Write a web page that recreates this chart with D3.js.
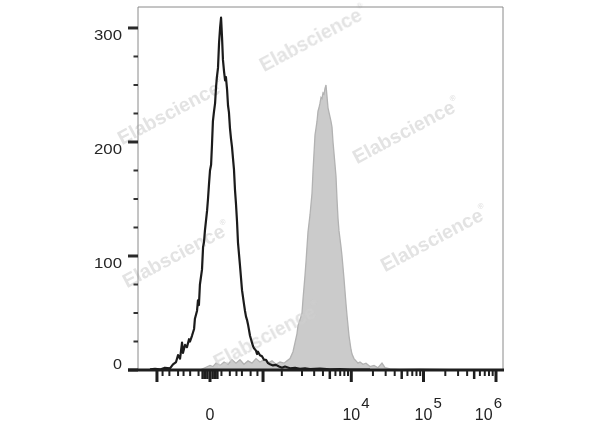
<!DOCTYPE html>
<html><head><meta charset="utf-8">
<script src="https://cdn.jsdelivr.net/npm/d3@7"></script>
<style>html,body{margin:0;padding:0;background:#fff;} svg{display:block;}</style>
</head><body><svg id="chart" width="600" height="427"></svg>
<script>
// [intensity, count]
const controlHistogram = [
[-652,0.5],[-539,1],[-443,0.5],[-362,2],[-292,1.5],[-255,5],[-221,7],[-201,13],[-181,10],[-163,24],
[-155,15],[-138,22],[-123,20],[-108,27],[-101,25],[-88,30],[-75,36],[-70,45],[-58,52],[-53,61],
[-48,57],[-43,75],[-33,88],[-28,108],[-24,112],[-20,122],[-11,140],[-7.5,150],[-3.7,163],[0,175],
[4,180],[7.5,198],[11,218],[15,226],[20,234],[24,248],[28,257],[33,265],[38,287],[43,300],
[48,309],[53,292],[58,272],[64,262],[70,254],[75,257],[82,246],[88,232],[94,226],[101,212],
[108,203],[115,196],[123,185],[130,176],[138,158],[146,146],[155,130],[163,112],[181,92],[201,70],
[221,58],[232,52],[243,47],[255,44],[267,40],[292,30],[305,27],[318,24],[332,21],[347,19],
[377,17],[393,14],[409,16],[443,13],[480,12],[519,9],[561,9],[605,6],[652,5],[728,4],
[812,4.5],[905,3],[1007,2],[1118,3],[1332,1.5],[1580,2],[1871,1],[2213,1.5],[2613,0.8],[3631,1.2],
[5032,0.6],[6954,0.8],[9590,0.4],[18210,0.3]
];
const stainedHistogram = [
[-43,0],[-20,2],[0,4],[11,3],[24,6],[43,4],[64,7],[88,5],[115,9],[146,6],
[181,9],[221,5],[267,8],[318,6],[377,10],[443,7],[519,9],[605,6],[702,8],[812,5],
[938,7],[1080,6],[1199,8],[1332,10],[1475,16],[1580,24],[1691,32],[1749,39],[1871,44],[2001,50],
[2069,62],[2213,83],[2288,95],[2445,121],[2613,136],[2792,155],[2885,174],[2982,190],[3082,206],[3185,212],
[3291,218],[3401,227],[3514,230],[3631,234],[3752,239],[3877,238],[4005,243],[4138,242],[4276,247],[4418,250],
[4563,240],[4715,230],[4870,226],[5032,222],[5197,218],[5369,213],[5546,200],[5729,190],[5917,180],[6110,170],
[6311,150],[6519,133],[6733,122],[6954,115],[7182,108],[7417,100],[7660,90],[7912,80],[8170,69],[8436,58],
[8711,48],[8996,39],[9291,30],[9590,24],[9907,18],[10230,14],[10900,10],[11630,8],[12400,6],[13220,7],
[14550,5],[16020,6],[18210,3],[20680,4],[23490,2],[26690,6],[29380,2],[34450,1],[47380,0.5],[89480,1],
[168900,0.5],[318900,0]
];
const yMajorTicks = [0, 100, 200, 300];
const yMinorTicks = [25, 50, 75, 125, 150, 175, 225, 250, 275];
const xMajorTicks = [-500, 0, 500, 1e4, 1e5, 1e6];
const xMediumTicks = [-30, -20, -10, 10, 20, 30, 5000, 5e4, 5e5];
const xMinorTicks = [-400,-300,-200,-150,-100,-50,50,100,150,200,300,400,
  1000,2000,3000,4000,6000,7000,8000,9000,
  2e4,3e4,4e4,6e4,7e4,8e4,9e4,2e5,3e5,4e5,6e5,7e5,8e5,9e5];
const xLabelValues = [0, 1e4, 1e5, 1e6];
const xLabelBases = ["0", "10", "10", "10"];
const xLabelExponents = ["", "4", "5", "6"];
const watermarkText = "Elabscience";

const svg = d3.select("#chart");
const L = 138, R = 503, T = 7, B = 370;
const x = d3.scaleSymlog().constant(114).domain([-1007, 1249000]).range([L, R]);
const y = d3.scaleLinear().domain([0, 318.4]).range([B, T]);
const FONT = "Liberation Sans, Arial, sans-serif";

// stained (filled grey)
svg.append("path").datum(stainedHistogram)
  .attr("d", d3.area().x(d => x(d[0])).y0(y(0)).y1(d => y(d[1])))
  .attr("fill", "#cbcbcb").attr("stroke", "#b2b2b2").attr("stroke-width", 1.3);

// watermarks
const wm = [[314,40],[172,113],[407,132],[435,240],[177,256],[268,337]];
const wg = svg.append("g").attr("opacity", 0.6);
wm.forEach(p => {
  const t = wg.append("text").attr("transform", `translate(${p[0]},${p[1]}) rotate(-28)`)
    .attr("text-anchor", "middle").attr("dominant-baseline", "middle")
    .attr("font-family", FONT).attr("font-weight", "bold")
    .attr("font-size", 19.5).attr("fill", "#d0d0d0");
  t.append("tspan").text(watermarkText);
  t.append("tspan").attr("font-size", 8).attr("dy", -8).text("®");
});

// control (black line)
svg.append("path").datum(controlHistogram)
  .attr("d", d3.line().x(d => x(d[0])).y(d => y(d[1])))
  .attr("fill", "none").attr("stroke", "#1b1b1b").attr("stroke-width", 2.2).attr("stroke-linejoin", "round");

// frame
svg.append("path").attr("d", `M${L},${B}V${T}H${R}V${B}`)
  .attr("fill", "none").attr("stroke", "#8a8a8a").attr("stroke-width", 1);

// y ticks
svg.selectAll(".ymaj").data(yMajorTicks).enter().append("line")
  .attr("x1", L - 10).attr("x2", L).attr("y1", d => y(d)).attr("y2", d => y(d))
  .attr("stroke", "#2a2a2a").attr("stroke-width", 3);
svg.selectAll(".ymin").data(yMinorTicks).enter().append("line")
  .attr("x1", L - 4.5).attr("x2", L).attr("y1", d => y(d)).attr("y2", d => y(d))
  .attr("stroke", "#333").attr("stroke-width", 2);
svg.selectAll(".ylab").data(yMajorTicks).enter().append("text")
  .attr("x", 122).attr("y", d => y(d) + (d === 0 ? -1 : 12))
  .attr("text-anchor", "end").attr("font-family", FONT)
  .attr("font-size", 15).attr("fill", "#262626")
  .attr("textLength", d => String(d).length * 9.5 - 0.5)
  .attr("lengthAdjust", "spacingAndGlyphs").text(d => d);

// x ticks
svg.selectAll(".xmaj").data(xMajorTicks).enter().append("line")
  .attr("x1", d => x(d)).attr("x2", d => x(d)).attr("y1", B).attr("y2", B + 12)
  .attr("stroke", "#1e1e1e").attr("stroke-width", 3);
svg.selectAll(".xmed").data(xMediumTicks).enter().append("line")
  .attr("x1", d => x(d)).attr("x2", d => x(d)).attr("y1", B).attr("y2", B + 9)
  .attr("stroke", "#1e1e1e").attr("stroke-width", 2.5);
svg.selectAll(".xmin").data(xMinorTicks).enter().append("line")
  .attr("x1", d => x(d)).attr("x2", d => x(d)).attr("y1", B).attr("y2", B + 6)
  .attr("stroke", "#1e1e1e").attr("stroke-width", 2);

// bottom axis line
svg.append("line").attr("x1", L - 10).attr("x2", R + 1).attr("y1", B).attr("y2", B)
  .attr("stroke", "#1e1e1e").attr("stroke-width", 3);

// x labels
xLabelValues.forEach((v, i) => {
  const t = svg.append("text").attr("y", 420)
    .attr("font-family", FONT).attr("font-size", 16).attr("fill", "#222");
  const b = t.append("tspan").text(xLabelBases[i]);
  if (xLabelExponents[i]) t.append("tspan").attr("dy", -12).attr("dx", 1).attr("font-size", 15).text(xLabelExponents[i]);
  const bw = b.node().getComputedTextLength();
  const tw = t.node().getComputedTextLength() + 1;
  let sx = x(v) - bw / 2;
  if (sx + tw > R - 1) sx = R - 1 - tw;
  t.attr("x", sx);
});
</script></body></html>
